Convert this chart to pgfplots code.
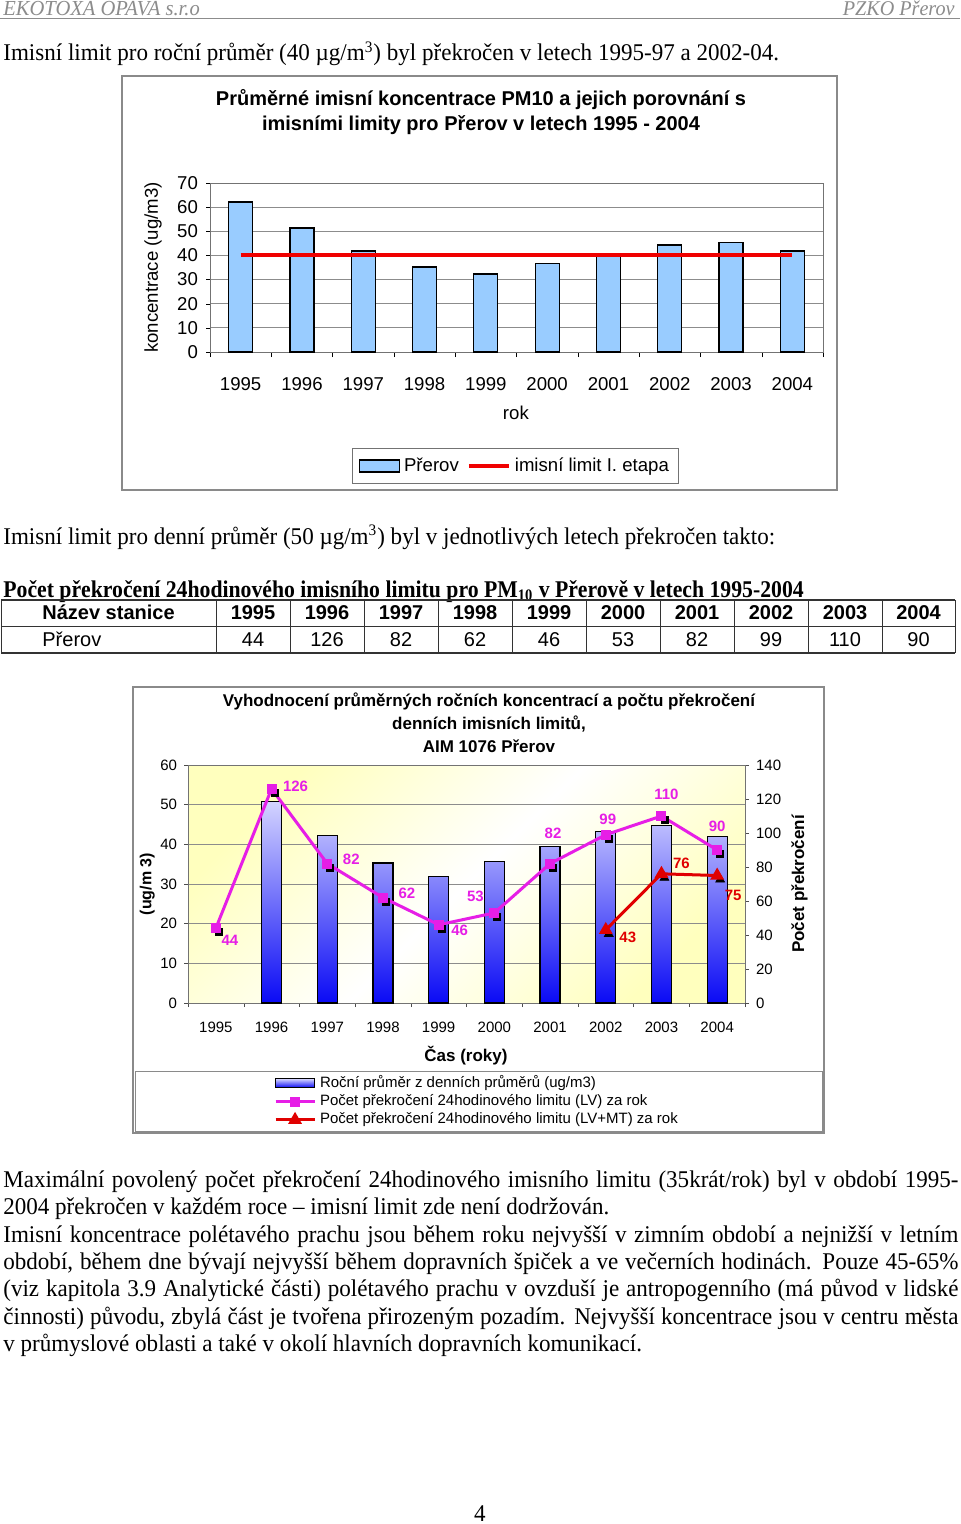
\documentclass[border=0pt]{standalone}
\usepackage{pgfplots}
\pgfplotsset{compat=1.18}
\usepackage{pgfplotstable}
\usepackage{fontspec}
\setmainfont{Liberation Serif}[FakeStretch=0.96]
\newfontfamily\serifcond{Liberation Serif}[FakeStretch=0.905]
\newfontfamily\arial{Liberation Sans}
\pgfplotsset{/pgf/number format/assume math mode=true}
\pgfplotsset{
  barlegA/.style={legend image code/.code={\draw[##1] (0pt,-3pt) rectangle (20pt,3pt);}},
  linelegA/.style={legend image code/.code={\draw[##1] (0pt,0pt) -- (20pt,0pt);}},
  barlegB/.style={legend image code/.code={\draw[##1] (0pt,-2.2pt) rectangle (19.5pt,2.2pt);}},
  linelegB/.style={legend image code/.code={\draw[##1, mark repeat=2, mark phase=2] plot coordinates {(0pt,0pt) (9.75pt,0pt) (19.5pt,0pt)};}},
}
\definecolor{barblue}{HTML}{99CCFF}
\definecolor{limred}{HTML}{F00000}
\definecolor{mag}{HTML}{E61EE6}
\definecolor{lvmt}{HTML}{E00000}
\definecolor{hdrgray}{HTML}{8C8C8C}
\definecolor{framegray}{HTML}{8A8A8A}
\definecolor{barTop}{HTML}{D4D4FF}
\definecolor{barBot}{HTML}{0A0AF5}
\definecolor{bgyel}{HTML}{FFFFBE}
\newcommand{\fA}{\arial\fontsize{9.3}{11}\selectfont}
\newcommand{\fAt}{\arial\fontsize{10}{12}\selectfont}
\newcommand{\fB}{\arial\fontsize{7.5}{9}\selectfont}
\newcommand{\fBt}{\arial\fontsize{8.5}{10}\selectfont}
\newcommand{\body}{\fontsize{12}{13.8}\selectfont}

\pgfplotstableread{
x conc
0 62.1
1 51.4
2 41.8
3 35.2
4 32.3
5 36.5
6 39.8
7 44.3
8 45.2
9 41.8
}\tabA
\pgfplotstableread{
x lim
0 40
9 40
}\tabLim
\pgfplotstableread{
x conc
1 50.8
2 42.2
3 35.3
4 31.8
5 35.7
6 39.4
7 43.3
8 44.8
9 41.9
}\tabB
\pgfplotstableread{
x lv dx dy
0 44 7 -6
1 126 12 1
2 82 12 2
3 62 12 2
4 46 10.5 -3
5 53 -9.5 8.5
6 82 1.5 15
7 99 1 7.5
8 110 2.5 11
9 90 0 12
}\tabLV
\pgfplotstableread{
x mt dx dy
7 43 11 -3.5
8 76 10 5
9 75 8 -10
}\tabMT

\begin{document}
\begin{tikzpicture}
\begin{scope}[x=0.5pt,y=-0.5pt]
\path[use as bounding box] (0,0) rectangle (960,1524);
\fill[white] (0,0) rectangle (960,1524);
% header
\node[anchor=base west, inner sep=0, text=hdrgray, font=\fontsize{10.7}{12}\selectfont\itshape] at (3,16) {EKOTOXA OPAVA s.r.o};
\node[anchor=base east, inner sep=0, text=hdrgray, font=\fontsize{10.5}{12}\selectfont\itshape] at (955,16) {PZKO Přerov};
\draw[hdrgray, line width=0.5pt] (0,19) -- (960,19);
\node[anchor=base west, inner sep=0, font=\body] at (3,61) {Imisní limit pro roční průměr (40 µg/m\textsuperscript{3}) byl překročen v letech 1995-97 a 2002-04.};
% chart 1 frame and title
\draw[framegray, line width=0.6pt] (122,76) rectangle (837,490);
\node[anchor=base, inner sep=0, font=\fAt\bfseries] at (481,106) {Průměrné imisní koncentrace PM10 a jejich porovnání s};
\node[anchor=base, inner sep=0, font=\fAt\bfseries] at (481,131) {imisními limity pro Přerov v letech 1995 - 2004};
% text between
\node[anchor=base west, inner sep=0, font=\body] at (3,544) {Imisní limit pro denní průměr (50 µg/m\textsuperscript{3}) byl v jednotlivých letech překročen takto:};
\node[anchor=base west, inner sep=0, font=\serifcond\body\bfseries] at (3,597) {Počet překročení 24hodinového imisního limitu pro PM\textsubscript{10} v Přerově v letech 1995-2004};
% table
\foreach \x in {1,216,290,364,438,512,586,660,734,808,882,955} \draw[black!80, line width=0.5pt] (\x,600) -- (\x,653);
\draw[black!80, line width=0.7pt] (1,600) -- (955,600);
\draw[black!80, line width=0.5pt] (1,626) -- (955,626);
\draw[black!80, line width=0.7pt] (1,653) -- (955,653);
\node[anchor=base west, inner sep=0, font=\arial\fontsize{10}{12}\selectfont\bfseries] at (42,619) {Název stanice};
\node[anchor=base west, inner sep=0, font=\arial\fontsize{10}{12}\selectfont] at (42,646) {Přerov};
\foreach \cx/\yr/\n in {253/1995/44, 327/1996/126, 401/1997/82, 475/1998/62, 549/1999/46, 623/2000/53, 697/2001/82, 771/2002/99, 845/2003/110, 918.5/2004/90}{
  \node[anchor=base, inner sep=0, font=\arial\fontsize{10}{12}\selectfont\bfseries] at (\cx,619) {\yr};
  \node[anchor=base, inner sep=0, font=\arial\fontsize{10}{12}\selectfont] at (\cx,646) {\n};
}
% chart 2 frame and title
\draw[framegray, line width=0.6pt] (133,687) rectangle (824,1133);
\draw[framegray, line width=0.5pt] (135,1071) rectangle (822,1131);
\node[anchor=base, inner sep=0, font=\fBt\bfseries] at (489,706) {Vyhodnocení průměrných ročních koncentrací a počtu překročení};
\node[anchor=base, inner sep=0, font=\fBt\bfseries] at (489,729) {denních imisních limitů,};
\node[anchor=base, inner sep=0, font=\fBt\bfseries] at (489,752) {AIM 1076 Přerov};
% body paragraphs
\node[anchor=base west, inner sep=0, font=\body] at (3,1187) {\makebox[477.5pt][s]{Maximální povolený počet překročení 24hodinového imisního limitu (35krát/rok) byl v období 1995-}};
\node[anchor=base west, inner sep=0, font=\body] at (3,1214) {2004 překročen v každém roce – imisní limit zde není dodržován.};
\node[anchor=base west, inner sep=0, font=\body] at (3,1242) {\makebox[477.5pt][s]{Imisní koncentrace polétavého prachu jsou během roku nejvyšší v zimním období a nejnižší v letním}};
\node[anchor=base west, inner sep=0, font=\body] at (3,1269) {\makebox[477.5pt][s]{období, během dne bývají nejvyšší během dopravních špiček a ve večerních hodinách. Pouze 45-65\%}};
\node[anchor=base west, inner sep=0, font=\body] at (3,1296) {\makebox[477.5pt][s]{(viz kapitola 3.9 Analytické části) polétavého prachu v ovzduší je antropogenního (má původ v lidské}};
\node[anchor=base west, inner sep=0, font=\body] at (3,1324) {\makebox[477.5pt][s]{činnosti) původu, zbylá část je tvořena přirozeným pozadím. Nejvyšší koncentrace jsou v centru města}};
\node[anchor=base west, inner sep=0, font=\body] at (3,1351) {v průmyslové oblasti a také v okolí hlavních dopravních komunikací.};
\node[anchor=base, inner sep=0, font=\body] at (480,1521) {4};
\end{scope}

% ---------- chart 1 ----------
\begin{axis}[
  at={(105pt,-176pt)}, anchor=south west, scale only axis,
  width=306.5pt, height=84.5pt,
  xmin=-0.5, xmax=9.5, ymin=0, ymax=70,
  xtick={0,...,9},
  xticklabels={1995,1996,1997,1998,1999,2000,2001,2002,2003,2004},
  minor xtick={-0.5,0.5,...,9.5},
  ytick={0,10,...,70},
  tick pos=left, tick align=outside,
  major x tick style={draw=none},
  minor tick length=2.5pt, major tick length=2pt,
  ymajorgrids, grid style={black!45, line width=0.5pt},
  axis line style={black!55},
  tick style={black},
  tick label style={font=\fA},
  xticklabel style={anchor=center, yshift=-14pt},
  yticklabel style={xshift=-0.5pt},
  ylabel={koncentrace (ug/m3)},
  ylabel style={at={(axis description cs:-0.093,0.5)}, anchor=center, font=\fA},
  xlabel={rok},
  xlabel style={at={(axis description cs:0.499,-0.361)}, anchor=center, font=\fA},
  legend style={at={(0.499,-0.675)}, anchor=center, legend columns=2, draw=black!55, font=\fA,
    inner xsep=3pt, inner ysep=2.5pt,
    /tikz/every even column/.append style={column sep=2pt}},
]
\addplot[ybar, bar width=12pt, fill=barblue, draw=black, line width=0.6pt, barlegA] table[x=x,y=conc]{\tabA};
\addlegendentry{Přerov}
\addplot[limred, line width=2pt, linelegA] table[x=x,y=lim]{\tabLim};
\addlegendentry{imisní limit I. etapa}
\end{axis}

% ---------- chart 2 (left axis, bars) ----------
\begin{axis}[
  at={(94pt,-501.5pt)}, anchor=south west, scale only axis,
  width=278.5pt, height=119pt,
  xmin=-0.5, xmax=9.5, ymin=0, ymax=60,
  xtick={0,...,9},
  xticklabels={1995,1996,1997,1998,1999,2000,2001,2002,2003,2004},
  minor xtick={-0.5,0.5,...,9.5},
  ytick={0,10,...,60},
  tick pos=left, tick align=outside,
  major x tick style={draw=none},
  minor tick length=2pt, major tick length=2pt,
  ymajorgrids, grid style={black!45, line width=0.5pt},
  axis line style={black!55},
  tick style={black!70},
  axis background/.style={left color=bgyel, right color=bgyel, middle color=white, shading angle=45},
  tick label style={font=\fB},
  xticklabel style={anchor=center, yshift=-10pt},
  ylabel={(ug/m 3)},
  ylabel style={at={(axis description cs:-0.073,0.5)}, anchor=center, font=\arial\fontsize{8}{9}\selectfont\bfseries},
  xlabel={Čas (roky)},
  xlabel style={at={(axis description cs:0.499,-0.223)}, anchor=center, font=\fBt\bfseries},
  legend cell align=left,
  legend style={at={(0.143,-0.27)}, anchor=north west, draw=none, fill=none, font=\fB,
    row sep=-2pt},
]
\addplot[ybar, bar width=10pt, draw=black, line width=0.6pt, top color=barTop, bottom color=barBot, barlegB] table[x=x,y=conc]{\tabB};
\addlegendentry{Roční průměr z denních průměrů (ug/m3)}
\addlegendimage{mag, line width=1.5pt, mark=square*, mark size=1.75pt, linelegB}
\addlegendentry{Počet překročení 24hodinového limitu (LV) za rok}
\addlegendimage{lvmt, line width=1.5pt, mark=triangle*, mark size=2.5pt, linelegB}
\addlegendentry{Počet překročení 24hodinového limitu (LV+MT) za rok}
\end{axis}

% ---------- chart 2 (right axis, counts) ----------
\begin{axis}[
  at={(94pt,-501.5pt)}, anchor=south west, scale only axis,
  width=278.5pt, height=119pt,
  xmin=-0.5, xmax=9.5, ymin=0, ymax=140,
  axis x line=none, axis y line*=right,
  ytick={0,20,...,140},
  tick align=outside, major tick length=2pt,
  axis line style={black!55},
  tick style={black!70},
  tick label style={font=\fB},
  ylabel={Počet překročení},
  ylabel style={at={(axis description cs:1.098,0.5)}, anchor=center, rotate=0, font=\fBt\bfseries},
  clip=false,
]
\addplot[only marks, mark=square*, mark size=1.75pt, black, mark options={xshift=1.5pt, yshift=-2pt}] table[x=x,y=lv]{\tabLV};
\addplot[mag, line width=1.5pt, mark=square*, mark size=1.75pt, mark options={fill=mag, draw=mag},
  nodes near coords, point meta=explicit,
  visualization depends on={\thisrow{dx}\as\dx},
  visualization depends on={\thisrow{dy}\as\dy},
  every node near coord/.append style={anchor=center, xshift=\dx pt, yshift=\dy pt, font=\fB\bfseries, text=mag, inner sep=0pt}]
  table[x=x,y=lv,meta=lv]{\tabLV};
\addplot[only marks, mark=triangle*, mark size=2.5pt, black, mark options={xshift=1.5pt, yshift=-2pt}] table[x=x,y=mt]{\tabMT};
\addplot[lvmt, line width=1.5pt, mark=triangle*, mark size=2.5pt, mark options={fill=lvmt, draw=lvmt},
  nodes near coords, point meta=explicit,
  visualization depends on={\thisrow{dx}\as\dx},
  visualization depends on={\thisrow{dy}\as\dy},
  every node near coord/.append style={anchor=center, xshift=\dx pt, yshift=\dy pt, font=\fB\bfseries, text=lvmt, inner sep=0pt}]
  table[x=x,y=mt,meta=mt]{\tabMT};
\end{axis}
\end{tikzpicture}
\end{document}
